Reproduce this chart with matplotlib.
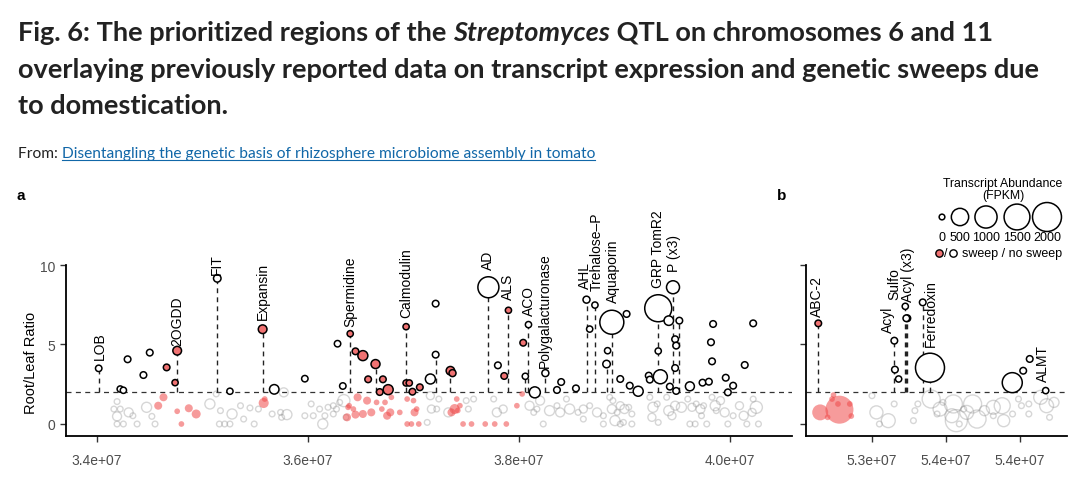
import numpy as np
import matplotlib
matplotlib.use("Agg")
import matplotlib.pyplot as plt
from matplotlib import font_manager
from matplotlib.ticker import FuncFormatter

W, H, DPI = 1080, 481, 100
PT = 72 / DPI  # points per pixel

installed = {f.name for f in font_manager.fontManager.ttflist}
SANS = ["Liberation Sans", "DejaVu Sans"]
NARROW = [f for f in ["Liberation Sans Narrow", "Lato"] if f in installed]
NARROW = NARROW + ["Liberation Sans", "DejaVu Sans"]

RATIO_CUTOFF = 2

# --- Panel a (chr 6 QTL): labelled transcripts, position in Mb ---
a_gene = ["LOB", "2OGDD", "FIT", "Expansin", "Spermidine", "Calmodulin", "AD",
          "ALS", "ACO", "Polygalacturonase", "AHL", "Trehalose\u2013P",
          "Aquaporin", "GRP TomR2", "P (x3)"]
a_gene_pos = [34.016, 34.76, 35.14, 35.57, 36.40, 36.93, 37.71,
              37.90, 38.09, 38.25, 38.64, 38.72, 38.88, 39.32, 39.46]
a_gene_ratio = [3.50, 4.61, 9.16, 5.96, 5.68, 6.12, 8.60,
                7.15, 6.25, 3.20, 7.82, 7.48, 6.40, 7.28, 8.60]
a_gene_fpkm = [2, 33, 12, 33, 1, 1, 866, 1, 1, 6, 6, 1, 1238, 1678, 197]
a_gene_sweep = [0, 1, 0, 1, 1, 1, 0, 1, 0, 0, 0, 0, 0, 0, 0]

# --- Panel a: other transcripts above the cut-off ---
a_pos = [34.29, 34.50, 34.44, 34.66, 34.74, 34.22, 34.25, 35.26, 35.68, 35.97,
         36.28, 36.33, 36.45, 36.52, 36.64, 36.57, 36.71, 36.68, 36.76, 36.93,
         36.96, 36.99, 37.06, 37.21, 37.21, 37.16, 37.35, 37.37, 37.80, 37.86,
         38.04, 38.06, 38.15, 38.36, 38.40, 38.54, 38.67, 39.02, 38.84, 38.83,
         38.96, 39.05, 39.13, 39.42, 39.52, 39.32, 39.48, 39.49, 39.48, 39.34,
         39.23, 39.24, 39.43, 39.49, 39.62, 39.74, 39.80, 39.84, 39.82, 39.83,
         39.96, 40.03, 39.98, 40.14, 40.22]
a_ratio = [4.07, 4.49, 3.08, 3.56, 2.60, 2.20, 2.12, 2.06, 2.18, 2.85,
           5.05, 2.39, 4.57, 4.30, 3.77, 2.81, 2.81, 2.01, 2.16, 2.58,
           2.58, 2.03, 2.31, 7.57, 4.36, 2.83, 3.35, 3.20, 3.69, 3.02,
           5.11, 3.00, 1.99, 2.14, 2.64, 2.24, 5.97, 6.92, 4.61, 3.77,
           2.83, 2.41, 2.06, 6.50, 6.50, 4.59, 5.33, 4.93, 3.52, 2.97,
           3.04, 2.79, 2.35, 2.08, 2.37, 2.60, 2.66, 6.29, 5.14, 3.94,
           2.91, 2.41, 1.99, 3.71, 6.33]
a_fpkm = [3, 3, 3, 3, 1, 1, 1, 1, 53, 2,
          2, 2, 3, 68, 40, 3, 3, 3, 68, 1,
          1, 3, 3, 3, 3, 68, 29, 6, 3, 3,
          3, 1, 104, 3, 3, 3, 1, 3, 1, 12,
          3, 3, 68, 53, 3, 1, 3, 3, 3, 255,
          3, 3, 3, 3, 40, 3, 3, 3, 3, 3,
          3, 3, 3, 3, 3]
a_sweep = [0, 0, 0, 1, 1, 0, 0, 0, 0, 0,
           0, 0, 1, 1, 1, 1, 1, 1, 1, 1,
           1, 1, 1, 0, 0, 0, 1, 1, 0, 1,
           1, 0, 0, 0, 0, 0, 0, 0, 0, 0,
           0, 0, 0, 0, 0, 0, 0, 0, 0, 0,
           0, 0, 0, 0, 0, 0, 0, 0, 0, 0,
           0, 0, 0, 0, 0]
a_seg = [0, 0, 0, 0, 0, 0, 0, 0, 0, 0,
         0, 0, 0, 0, 1, 0, 0, 0, 0, 0,
         0, 0, 0, 0, 1, 0, 1, 0, 0, 0,
         0, 1, 0, 0, 0, 0, 0, 0, 0, 1,
         0, 0, 0, 0, 1, 0, 0, 0, 0, 0,
         0, 0, 0, 0, 0, 0, 0, 0, 0, 0,
         0, 0, 0, 0, 0]

# --- Panel a: transcripts below the cut-off (faded) ---
a_bg_pos = [34.19, 34.16, 34.22, 34.19, 34.19, 34.25, 34.30, 34.34, 34.38, 34.47,
            34.52, 34.55, 34.63, 34.58, 34.76, 34.80, 34.87, 34.94, 35.07, 35.13,
            35.17, 35.16, 35.21, 35.26, 35.28, 35.36, 35.39, 35.45, 35.49, 35.53,
            35.58, 35.59, 35.66, 35.77, 35.74, 35.80, 35.75, 35.97, 36.03, 36.05,
            36.11, 36.14, 36.16, 36.19, 36.24, 36.24, 36.27, 36.30, 36.34, 36.36,
            36.38, 36.39, 36.37, 36.45, 36.47, 36.43, 36.52, 36.60, 36.56, 36.65,
            36.70, 36.75, 36.78, 36.79, 36.73, 36.87, 36.94, 37.01, 37.03, 37.05,
            36.98, 36.94, 37.00, 37.16, 37.17, 37.22, 37.24, 37.13, 37.33, 37.41,
            37.39, 37.36, 37.44, 37.42, 37.47, 37.52, 37.50, 37.57, 37.55, 37.68,
            37.77, 37.88, 37.76, 37.79, 37.85, 37.98, 38.03, 38.10, 38.14, 38.20,
            38.17, 38.23, 38.29, 38.36, 38.39, 38.45, 38.48, 38.56, 38.61, 38.61,
            38.67, 38.74, 38.80, 38.86, 38.88, 38.93, 38.96, 38.89, 38.80, 38.91,
            38.96, 39.00, 39.04, 39.07, 38.99, 39.07, 39.24, 39.27, 39.31, 39.26,
            39.32, 39.40, 39.42, 39.45, 39.48, 39.54, 39.60, 39.64, 39.68, 39.72,
            39.73, 39.75, 39.78, 39.62, 39.67, 39.83, 39.86, 39.87, 39.91, 39.95,
            39.98, 40.03, 40.09, 40.13, 40.16, 40.21, 40.25, 40.27, 40.22]
a_bg_ratio = [1.41, 0.94, 0.94, 0.48, 0.00, 0.00, 0.73, 0.52, 0.00, 1.05,
              0.48, 0.00, 1.68, 1.15, 0.80, 0.00, 0.99, 0.63, 1.26, 1.89,
              0.84, 0.00, 0.00, 0.00, 0.63, 1.15, 0.31, 1.01, 0.00, 0.94,
              1.32, 1.57, 0.63, 1.99, 0.73, 0.59, 0.42, 0.52, 1.26, 0.52,
              0.94, 0.00, 0.52, 1.05, 1.15, 0.63, 0.94, 1.36, 1.47, 0.42,
              1.05, 1.15, 0.42, 0.59, 1.68, 0.94, 0.63, 0.73, 1.47, 1.36,
              0.94, 0.52, 0.73, 1.68, 1.36, 0.73, 0.00, 0.73, 0.94, 0.00,
              0.00, 1.57, 1.47, 1.78, 0.94, 0.94, 1.57, 0.10, 0.73, 1.57,
              0.94, 0.73, 1.15, 0.85, 0.00, 0.94, 1.47, 1.57, 0.00, 0.00,
              0.00, 0.00, 1.57, 0.73, 0.94, 1.15, 1.89, 1.15, 0.73, 1.47,
              0.94, 0.00, 0.84, 1.15, 0.73, 1.57, 0.94, 0.73, 0.94, 0.31,
              1.15, 0.73, 0.00, 1.68, 0.94, 0.73, 0.00, 1.47, 0.52, 0.21,
              1.15, 0.94, 1.05, 0.63, 0.10, 0.00, 1.68, 1.05, 1.26, 0.42,
              0.10, 1.68, 0.84, 0.52, 1.15, 1.05, 1.57, 1.05, 1.26, 0.94,
              0.52, 1.15, 0.00, 0.00, 0.00, 1.68, 1.15, 0.84, 1.47, 0.73,
              0.00, 0.52, 1.15, 0.52, 0.00, 0.73, 1.05, 0.00, 1.57]
a_bg_fpkm = [0, 0, 0, 40, 0, 0, 40, 0, 0, 70,
             0, 0, 20, 20, 0, 0, 20, 40, 70, 0,
             0, 0, 0, 0, 70, 0, 0, 0, 0, 0,
             70, 0, 0, 40, 0, 70, 0, 0, 0, 0,
             0, 70, 0, 0, 0, 0, 0, 0, 150, 0,
             0, 0, 20, 20, 20, 0, 20, 20, 20, 0,
             0, 20, 20, 0, 0, 0, 0, 20, 0, 0,
             0, 0, 0, 20, 20, 0, 0, 0, 40, 0,
             70, 20, 0, 0, 0, 0, 0, 0, 0, 0,
             0, 0, 0, 40, 20, 0, 0, 40, 0, 40,
             0, 0, 70, 0, 40, 0, 70, 0, 20, 0,
             0, 40, 0, 0, 40, 0, 0, 0, 0, 70,
             20, 40, 0, 0, 0, 0, 0, 70, 0, 20,
             0, 0, 70, 20, 40, 70, 0, 20, 0, 40,
             0, 0, 0, 0, 0, 0, 70, 0, 20, 40,
             0, 0, 20, 40, 0, 20, 150, 0, 0]
a_bg_sweep = [0, 0, 0, 0, 0, 0, 0, 0, 0, 0,
              0, 0, 1, 1, 1, 1, 1, 1, 0, 0,
              0, 0, 0, 0, 0, 0, 0, 0, 0, 0,
              1, 1, 0, 0, 0, 0, 0, 0, 0, 0,
              0, 0, 0, 0, 0, 0, 0, 0, 0, 0,
              1, 1, 1, 1, 1, 1, 1, 1, 1, 1,
              1, 1, 1, 1, 1, 1, 1, 1, 1, 1,
              1, 1, 1, 0, 0, 0, 0, 0, 0, 1,
              1, 1, 1, 1, 1, 0, 0, 0, 1, 1,
              1, 1, 0, 0, 0, 1, 1, 0, 0, 0,
              0, 0, 0, 0, 0, 0, 0, 0, 0, 0,
              0, 0, 0, 0, 0, 0, 0, 0, 0, 0,
              0, 0, 0, 0, 0, 0, 0, 0, 0, 0,
              0, 0, 0, 0, 0, 0, 0, 0, 0, 0,
              0, 0, 0, 0, 0, 0, 0, 0, 0, 0,
              0, 0, 0, 0, 0, 0, 0, 0, 0]

# --- Panel b (chr 11 QTL) ---
b_gene = ["ABC-2", "Acyl", "Sulfo", "Acyl (x3)", "Ferredoxin", "ALMT"]
b_gene_pos = [52.637, 53.151, 53.232, 53.225, 53.343, 54.174]
b_gene_ratio = [6.33, 5.24, 6.65, 7.40, 7.65, 2.10]
b_gene_fpkm = [3, 3, 3, 1, 3, 1]
b_gene_sweep = [1, 0, 0, 0, 0, 0]

b_pos = [53.155, 53.18, 53.239, 53.392, 53.948, 54.022, 54.066]
b_ratio = [3.42, 2.83, 6.65, 3.54, 2.60, 3.35, 4.09]
b_fpkm = [3, 1, 3, 2008, 756, 3, 3]
b_sweep = [0, 0, 0, 0, 0, 0, 0]
b_seg = [0, 0, 1, 1, 0, 0, 0]

b_bg_pos = [52.78, 52.65, 52.74, 52.73, 52.77, 52.86, 52.85, 52.70, 53.00, 53.03,
            53.11, 53.05, 53.15, 53.31, 53.29, 53.28, 53.40, 53.46, 53.44, 53.48,
            53.55, 53.54, 53.57, 53.59, 53.62, 53.64, 53.68, 53.71, 53.76, 53.82,
            53.82, 53.88, 53.89, 53.95, 53.99, 54.01, 54.06, 54.06, 54.14, 54.18,
            54.20, 54.23]
b_bg_ratio = [0.90, 0.73, 1.82, 1.57, 1.26, 0.50, 1.26, 0.42, 1.78, 0.73,
              0.21, 0.00, 1.26, 1.26, 0.84, 0.21, 1.57, 0.94, 0.63, 1.36,
              1.26, 0.52, 0.21, 0.00, 0.94, 0.73, 1.26, 0.31, 0.84, 1.05,
              0.52, 1.15, 0.21, 0.63, 1.57, 1.15, 1.26, 0.63, 1.68, 1.15,
              0.42, 1.36]
b_bg_fpkm = [1840, 390, 0, 0, 0, 0, 0, 0, 0, 200,
             250, 0, 0, 0, 0, 0, 560, 250, 0, 0,
             560, 250, 980, 0, 0, 250, 560, 560, 70, 250,
             0, 390, 150, 0, 0, 0, 0, 0, 250, 250,
             0, 70]
b_bg_sweep = [1, 1, 1, 1, 1, 1, 1, 1, 0, 0,
              0, 0, 0, 0, 0, 0, 0, 0, 0, 0,
              0, 0, 0, 0, 0, 0, 0, 0, 0, 0,
              0, 0, 0, 0, 0, 0, 0, 0, 0, 0,
              0, 0]

legend_fpkm = [0, 500, 1000, 1500, 2000]

RED = "#F07272"
RED_BG = "#F04A4A"


def diam(f):
    return 5.7 + 0.52 * np.sqrt(np.asarray(f, dtype=float))


def area(f):
    return (diam(f) * PT) ** 2


def draw_panel(ax, pos, ratio, fpkm, sweep, seg, g_name, g_pos, g_ratio, g_fpkm,
               g_sweep, bg_pos, bg_ratio, bg_fpkm, bg_sweep, label_tweak):
    ax.axhline(RATIO_CUTOFF, color="#333333", lw=0.9, ls=(0, (4, 3.5)), zorder=1)

    # faded transcripts below cut-off
    bx = np.array(bg_pos) * 1e6
    by = np.array(bg_ratio)
    bs = area(bg_fpkm)
    bsw = np.array(bg_sweep, bool)
    ax.scatter(bx[~bsw], by[~bsw], s=bs[~bsw], facecolors="none",
               edgecolors="#8c8c8c", linewidths=1.0, alpha=0.35, zorder=1.5)
    ax.scatter(bx[bsw], by[bsw], s=bs[bsw], color=RED_BG, edgecolors="none",
               alpha=0.55, zorder=1.6)

    # dashed drop lines
    for x, y, s in zip(pos, ratio, seg):
        if s:
            ax.plot([x * 1e6] * 2, [RATIO_CUTOFF, y], color="#222222", lw=1.0,
                    ls=(0, (3.5, 3)), zorder=2)
    for x, y in zip(g_pos, g_ratio):
        ax.plot([x * 1e6] * 2, [RATIO_CUTOFF, y], color="#222222", lw=1.0,
                ls=(0, (3.5, 3)), zorder=2)

    # solid points, big ones first
    xs = np.array(list(pos) + list(g_pos)) * 1e6
    ys = np.array(list(ratio) + list(g_ratio))
    fs = np.array(list(fpkm) + list(g_fpkm), float)
    sw = np.array(list(sweep) + list(g_sweep), bool)
    order = np.argsort(-fs, kind="stable")
    ax.scatter(xs[order], ys[order], s=area(fs[order]),
               facecolors=[RED if s else "white" for s in sw[order]],
               edgecolors="black", linewidths=1.1, zorder=3)

    # gene labels
    for name, x, y, f in zip(g_name, g_pos, g_ratio, g_fpkm):
        dx, gap = label_tweak.get(name, (0, 5))
        r = diam(f) / 2
        ax.annotate(name, (x * 1e6, y), xytext=(dx * PT, (r + gap) * PT),
                    textcoords="offset points", rotation=90, ha="center",
                    va="bottom", fontsize=10, family=SANS, color="black",
                    annotation_clip=False, zorder=4)

    ax.set_ylim(-0.755, 14.78)
    for side in ("top", "right"):
        ax.spines[side].set_visible(False)
    ax.spines["left"].set_bounds(-0.755, 10)
    for side in ("left", "bottom"):
        ax.spines[side].set_linewidth(1.3)
    ax.set_yticks([0, 5, 10])
    ax.tick_params(axis="both", direction="out", length=4, width=1.0,
                   color="#333333", labelcolor="#4D4D4D", labelsize=10, pad=4)
    ax.tick_params(axis="x", pad=8)
    ax.xaxis.set_major_formatter(FuncFormatter(lambda v, p: f"{v:.1e}"))
    for lab in ax.get_xticklabels() + ax.get_yticklabels():
        lab.set_family(SANS)
    ax.patch.set_alpha(0)


fig = plt.figure(figsize=(W / DPI, H / DPI), dpi=DPI)
ax_a = fig.add_axes([66 / W, 1 - 437 / H, 726 / W, 247 / H])
ax_b = fig.add_axes([806 / W, 1 - 437 / H, 261 / W, 247 / H])

a_tweak = {"LOB": (1, 6), "2OGDD": (0, 1), "FIT": (0, 1), "Expansin": (0, 6),
           "Calmodulin": (0, 7), "AD": (0, 8), "ALS": (0, 8), "ACO": (0, 7),
           "Polygalacturonase": (0, 3), "AHL": (-2, 8), "Trehalose\u2013P": (2, 12),
           "Aquaporin": (1, 8), "GRP TomR2": (0, 8), "P (x3)": (1, 10)}
b_tweak = {"ABC-2": (-1, 4), "Acyl": (-6, 5), "Sulfo": (-12, 16),
           "Acyl (x3)": (3, 2), "Ferredoxin": (8, -47), "ALMT": (-3, 6)}

draw_panel(ax_a, a_pos, a_ratio, a_fpkm, a_sweep, a_seg, a_gene, a_gene_pos,
           a_gene_ratio, a_gene_fpkm, a_gene_sweep, a_bg_pos, a_bg_ratio,
           a_bg_fpkm, a_bg_sweep, a_tweak)
draw_panel(ax_b, b_pos, b_ratio, b_fpkm, b_sweep, b_seg, b_gene, b_gene_pos,
           b_gene_ratio, b_gene_fpkm, b_gene_sweep, b_bg_pos, b_bg_ratio,
           b_bg_fpkm, b_bg_sweep, b_tweak)

ax_a.set_xlim(33.706e6, 40.588e6)
ax_a.set_xticks([34e6, 36e6, 38e6, 40e6])
ax_a.set_ylabel("Root/Leaf Ratio", fontsize=10.5, family=SANS)
ax_a.yaxis.set_label_coords(-0.039, 0.30)

ax_b.set_xlim(52.554e6, 54.318e6)
ax_b.set_xticks([53.0e6, 53.5e6, 54.0e6])
ax_b.set_yticklabels([])

# --- overlay in pixel coordinates for title, panel letters and legend ---
ov = fig.add_axes([0, 0, 1, 1])
ov.set_xlim(0, W)
ov.set_ylim(H, 0)
ov.axis("off")
renderer = fig.canvas.get_renderer()


def width(s, **kw):
    t = ov.text(0, 0, "|" + s + "|", **kw)
    w = t.get_window_extent(renderer).width
    t.set_text("||")
    w -= t.get_window_extent(renderer).width
    t.remove()
    return w


def runs(x, y, parts, **kw):
    for s, style in parts:
        ov.text(x, y, s, style=style, va="baseline", ha="left", **kw)
        x += width(s, style=style, **kw)
    return x


line1 = [("Fig. 6: The prioritized regions of the ", "normal"),
         ("Streptomyces", "italic"),
         (" QTL on chromosomes 6 and 11", "normal")]
tkw = dict(family=NARROW, fontweight="bold", color="#222222")
w1 = sum(width(s, style=st, fontsize=20, **tkw) for s, st in line1)
tsize = 20 * 975 / w1
runs(18, 41, line1, fontsize=tsize, **tkw)
runs(18, 78, [("overlaying previously reported data on transcript expression "
               "and genetic sweeps due", "normal")], fontsize=tsize, **tkw)
runs(18, 114, [("to domestication.", "normal")], fontsize=tsize, **tkw)

fkw = dict(family=NARROW)
link = "Disentangling the genetic basis of rhizosphere microbiome assembly in tomato"
wf = width("From: " + link, fontsize=11, **fkw)
fsize = 11 * 578 / wf
x0 = runs(18, 158, [("From: ", "normal")], fontsize=fsize, color="#222222", **fkw)
x1 = runs(x0, 158, [(link, "normal")], fontsize=fsize, color="#1167A8", **fkw)
ov.plot([x0, x1], [160.5, 160.5], color="#1167A8", lw=0.8)

ov.text(21, 196, "a", fontsize=11, fontweight="bold", family=SANS, ha="center", va="center")
ov.text(782, 196, "b", fontsize=11, fontweight="bold", family=SANS, ha="center", va="center")

# size legend
leg_x = [942, 960, 986, 1017, 1047]
ov.text(1003, 184, "Transcript Abundance", fontsize=8.8, family=SANS, ha="center", va="center")
ov.text(1003, 196, "(FPKM)", fontsize=8.8, family=SANS, ha="center", va="center")
ov.scatter(leg_x, [218] * 5, s=area(legend_fpkm), facecolors="white",
           edgecolors="black", linewidths=1.1, clip_on=False)
for x, f in zip(leg_x, legend_fpkm):
    ov.text(x, 238, str(f), fontsize=9, family=SANS, ha="center", va="center")
ov.scatter([939], [254], s=area([10]), facecolors=RED, edgecolors="black", linewidths=1.0)
ov.text(946, 254, "/", fontsize=9, family=SANS, ha="center", va="center")
ov.scatter([953], [254], s=area([10]), facecolors="white", edgecolors="black", linewidths=1.0)
ov.text(962, 254, "sweep / no sweep", fontsize=9, family=SANS, ha="left", va="center")

fig.savefig("out.png", dpi=DPI)
